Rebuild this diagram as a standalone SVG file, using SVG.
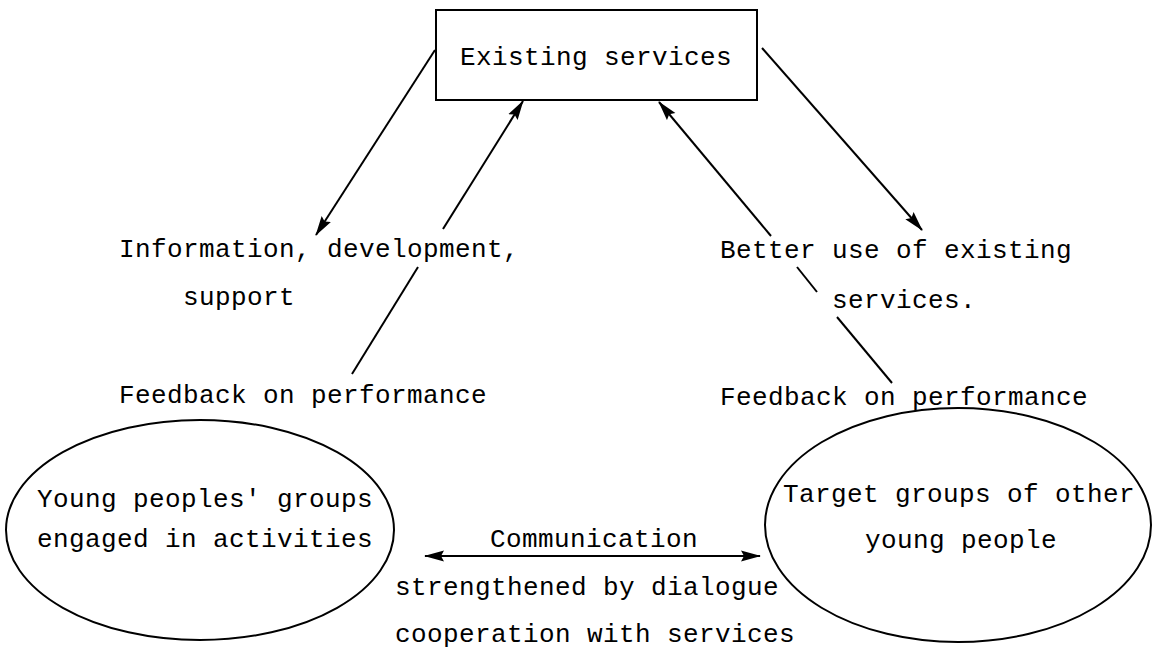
<svg xmlns="http://www.w3.org/2000/svg" width="1153" height="653" viewBox="0 0 1153 653">
<defs>
<style>
.t{font-family:"Liberation Mono","DejaVu Sans Mono",monospace;font-size:26px;letter-spacing:0.4px;fill:#000}
.ln{stroke:#000;stroke-width:2;fill:none}
.sh{stroke:#000;stroke-width:2;fill:#fff}
</style>
<marker id="ah" viewBox="0 0 20 12" refX="19" refY="6" markerWidth="20" markerHeight="12" markerUnits="userSpaceOnUse" orient="auto-start-reverse">
<path d="M0,0.5 L20,6 L0,11.5 L3,6 Z" fill="#000"/>
</marker>
</defs>
<rect width="1153" height="653" fill="#fff"/>
<g id="connectors">
<line class="ln" x1="435" y1="50" x2="316" y2="235" marker-end="url(#ah)"/>
<line class="ln" x1="352" y1="374" x2="418" y2="267"/>
<line class="ln" x1="443" y1="229" x2="523" y2="101" marker-end="url(#ah)"/>
<line class="ln" x1="762" y1="48" x2="922" y2="230" marker-end="url(#ah)"/>
<line class="ln" x1="892" y1="383" x2="837" y2="317"/>
<line class="ln" x1="817" y1="292" x2="797" y2="267"/>
<line class="ln" x1="771" y1="236" x2="659" y2="102" marker-end="url(#ah)"/>
<line class="ln" x1="425" y1="556" x2="760" y2="556" stroke-width="3" marker-start="url(#ah)" marker-end="url(#ah)"/>
</g>
<g id="existing">
<rect class="sh" x="436" y="10" width="321" height="90"/>
<text class="t" x="460" y="65">Existing services</text>
</g>
<g id="young">
<ellipse class="ln" cx="200" cy="530" rx="194" ry="110"/>
<text class="t" x="37" y="507">Young peoples' groups</text>
<text class="t" x="37" y="547">engaged in activities</text>
</g>
<g id="target">
<ellipse class="ln" cx="958" cy="525" rx="193" ry="117"/>
<text class="t" x="783" y="502">Target groups of other</text>
<text class="t" x="865" y="548">young people</text>
</g>
<g id="labels">
<text class="t" x="119" y="257">Information, development,</text>
<text class="t" x="183" y="305">support</text>
<text class="t" x="119" y="403">Feedback on performance</text>
<text class="t" x="720" y="258">Better use of existing</text>
<text class="t" x="832" y="308">services.</text>
<text class="t" x="720" y="405">Feedback on performance</text>
<text class="t" x="490" y="547">Communication</text>
<text class="t" x="395" y="595">strengthened by dialogue</text>
<text class="t" x="395" y="642">cooperation with services</text>
</g>
</svg>
